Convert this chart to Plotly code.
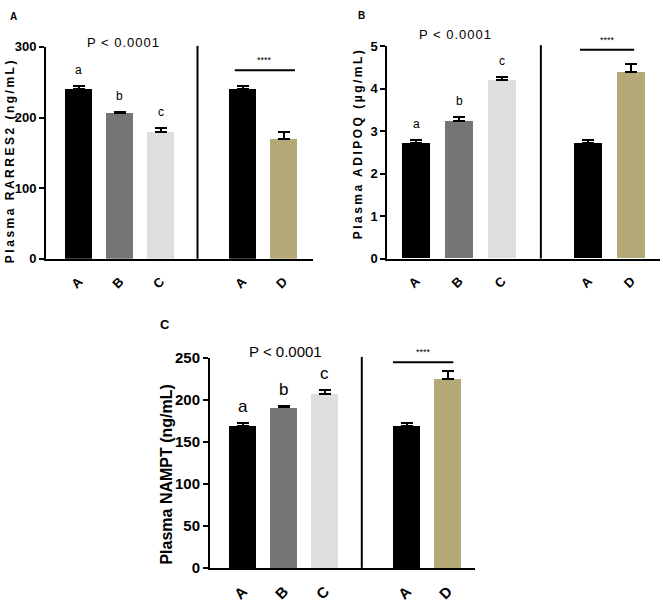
import plotly.graph_objects as go

W, H = 663, 607

# ---- data ----
groups = ["A", "B", "C", "A", "D"]
group_pos = [0, 1, 2, 4, 5]
rarres2 = [240, 206, 179, 240, 170]
rarres2_err = [5, 2.5, 6, 5, 10]
adipoq = [2.71, 3.24, 4.20, 2.71, 4.39]
adipoq_err = [0.07, 0.10, 0.08, 0.07, 0.18]
nampt = [169, 191, 207, 169, 224.5]
nampt_err = [3, 1.5, 5, 3, 9.5]
letters = ["a", "b", "c"]
p_text = "P < 0.0001"
sig_text = "****"

colors = ["#000000", "#757575", "#dedede", "#000000", "#b5a977"]
FONT = "Liberation Sans, Arial, sans-serif"


def px2x(px):
    return px / W


def px2y(py):
    return 1 - py / H


panels = [
    dict(name="A", vals=rarres2, err=rarres2_err, title="Plasma RARRES2 (ng/mL)",
         xdom=(46, 313), ydom=(39, 257), xr=(-0.8, 5.72), yr=(0, 300), dtick=100,
         tick_fs=13, xtick_fs=13, title_fs=12, title_pos=(10, 156), letter_pos=(13, 8), letter_fs=10,
         p_pos=(123, 34), p_fs=13, lab_fs=12, lab_shift=7,
         sig_x=(3.81, 5.28), sig_y=267, ticklen=8),
    dict(name="B", vals=adipoq, err=adipoq_err, title="Plasma ADIPOQ (µg/mL)",
         xdom=(387.3, 660), ydom=(38.3, 256.7), xr=(-0.67, 5.67), yr=(0, 5), dtick=1,
         tick_fs=13, xtick_fs=13, title_fs=12, title_pos=(358, 139), letter_pos=(362, 7), letter_fs=10,
         p_pos=(455, 26), p_fs=13, lab_fs=12, lab_shift=7,
         sig_x=(3.81, 5.07), sig_y=4.92, ticklen=8),
    dict(name="C", vals=nampt, err=nampt_err, title="Plasma NAMPT (ng/mL)",
         xdom=(210, 475), ydom=(359, 575), xr=(-0.8, 5.66), yr=(0, 250), dtick=50,
         tick_fs=15, xtick_fs=15, title_fs=16, title_pos=(167, 479), letter_pos=(165, 325), letter_fs=13,
         p_pos=(285, 352), p_fs=15, lab_fs=17, lab_shift=5,
         sig_x=(3.66, 5.13), sig_y=245, ticklen=7),
]

fig = go.Figure()
annotations = []
shapes = []

for i, p in enumerate(panels):
    xa = "x" if i == 0 else f"x{i+1}"
    ya = "y" if i == 0 else f"y{i+1}"
    xkey = "xaxis" if i == 0 else f"xaxis{i+1}"
    ykey = "yaxis" if i == 0 else f"yaxis{i+1}"

    fig.add_trace(go.Bar(
        x=group_pos, y=p["vals"], width=0.66,
        marker=dict(color=colors, line=dict(width=0)),
        error_y=dict(type="data", symmetric=False, array=p["err"],
                     arrayminus=[0] * len(p["err"]), color="black",
                     thickness=2, width=6),
        xaxis=xa, yaxis=ya, showlegend=False, hoverinfo="skip",
    ))

    fig.layout[xkey] = dict(
        domain=[px2x(p["xdom"][0]), px2x(p["xdom"][1])], anchor=ya,
        range=list(p["xr"]), tickvals=group_pos, ticktext=groups,
        tickangle=-45, showline=True, linecolor="black", linewidth=2,
        ticks="outside", ticklen=p["ticklen"], tickcolor="rgba(0,0,0,0)",
        showgrid=False, zeroline=False, fixedrange=True,
        tickfont=dict(family=FONT, size=p["xtick_fs"], color="black", weight="bold"),
    )
    fig.layout[ykey] = dict(
        domain=[px2y(p["ydom"][1]), px2y(p["ydom"][0])], anchor=xa,
        range=list(p["yr"]), dtick=p["dtick"], showline=True, linecolor="black",
        linewidth=2, ticks="outside", ticklen=5, tickwidth=2, tickcolor="black",
        showgrid=False, zeroline=False, fixedrange=True,
        tickfont=dict(family=FONT, size=p["tick_fs"], color="black", weight="bold"),
    )

    # y title
    annotations.append(dict(
        text=p["title"], x=px2x(p["title_pos"][0]), y=px2y(p["title_pos"][1]),
        xref="paper", yref="paper", showarrow=False, textangle=-90,
        xanchor="center", yanchor="middle",
        font=dict(family=FONT, size=p["title_fs"], color="black", weight="bold"),
    ))
    # panel letter
    annotations.append(dict(
        text=p["name"], x=px2x(p["letter_pos"][0]), y=px2y(p["letter_pos"][1]),
        xref="paper", yref="paper", showarrow=False, xanchor="center", yanchor="middle",
        font=dict(family=FONT, size=p["letter_fs"], color="black", weight="bold"),
    ))
    # P value
    annotations.append(dict(
        text=p_text, x=px2x(p["p_pos"][0]), y=px2y(p["p_pos"][1]),
        xref="paper", yref="paper", showarrow=False, xanchor="center", yanchor="middle",
        font=dict(family=FONT, size=p["p_fs"], color="black"),
    ))
    # group letters
    for j, lt in enumerate(letters):
        annotations.append(dict(
            text=lt, x=group_pos[j], y=p["vals"][j] + p["err"][j], xref=xa, yref=ya,
            showarrow=False, xanchor="center", yanchor="bottom", yshift=p["lab_shift"],
            font=dict(family=FONT, size=p["lab_fs"], color="black"),
        ))
    # significance
    annotations.append(dict(
        text=sig_text, x=(p["sig_x"][0] + p["sig_x"][1]) / 2, y=p["sig_y"], xref=xa, yref=ya,
        showarrow=False, xanchor="center", yanchor="middle", yshift=10,
        font=dict(family=FONT, size=9, color="black"),
    ))
    shapes.append(dict(type="line", xref=xa, yref=ya, x0=p["sig_x"][0], x1=p["sig_x"][1],
                       y0=p["sig_y"], y1=p["sig_y"], line=dict(color="black", width=2)))
    # divider
    shapes.append(dict(type="line", xref=xa, yref=f"{ya} domain", x0=2.9, x1=2.9,
                       y0=0, y1=1.005, line=dict(color="black", width=2)))

fig.update_layout(
    width=W, height=H, margin=dict(l=0, r=0, t=0, b=0),
    paper_bgcolor="white", plot_bgcolor="white",
    annotations=annotations, shapes=shapes, bargap=0,
    font=dict(family=FONT, color="black"),
)

post = """
document.body.style.margin = '0';
document.body.style.overflow = 'hidden';
document.querySelectorAll('.annotation-text').forEach(function(t){
  var s = t.textContent;
  if (s.indexOf('RARRES2') >= 0 || s.indexOf('ADIPOQ') >= 0) { t.style.letterSpacing = '2.5px'; }
  if (s.indexOf('P < 0.0001') >= 0 && t.style.fontSize === '13px') { t.style.letterSpacing = '1px'; }
});
"""

fig.write_html("out.html", post_script=post, config={"displayModeBar": False})
